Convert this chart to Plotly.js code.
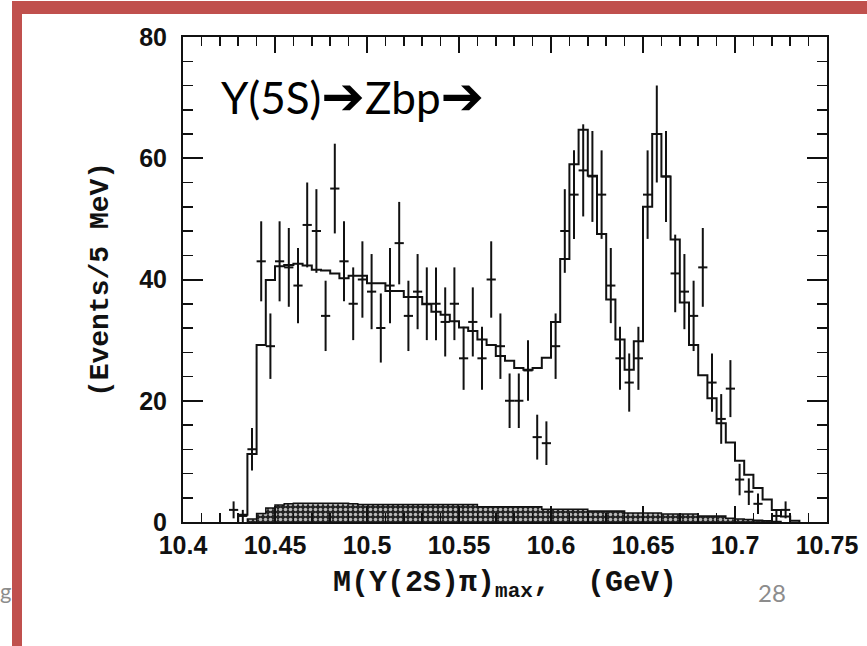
<!DOCTYPE html>
<html>
<head>
<meta charset="utf-8">
<script src="https://cdn.plot.ly/plotly-3.0.1.min.js"></script>
<style>
  html, body { margin: 0; padding: 0; background: #ffffff; }
  #chart { width: 867px; height: 646px; }
</style>
</head>
<body>
<div id="chart"></div>
<script>
// ---- Data ----
// Measured points (bin centres in GeV, events / 5 MeV, error bars)
const dataMass = [10.4275,10.4325,10.4375,10.4425,10.4475,10.4525,10.4575,10.4625,10.4675,10.4725,
  10.4775,10.4825,10.4875,10.4925,10.4975,10.5025,10.5075,10.5125,10.5175,10.5225,
  10.5275,10.5325,10.5375,10.5425,10.5475,10.5525,10.5575,10.5625,10.5675,10.5725,
  10.5775,10.5825,10.5875,10.5925,10.5975,10.6025,10.6075,10.6125,10.6175,10.6225,
  10.6275,10.6325,10.6375,10.6425,10.6475,10.6525,10.6575,10.6625,10.6675,10.6725,
  10.6775,10.6825,10.6875,10.6925,10.6975,10.7025,10.7075,10.7125,10.7225,10.7275];
const dataEvents = [2,1,12,43,29,43,42,39,49,48,
  34,55,43,36,40,38,32,39,46,34,
  38,36,36,33,36,27,33,27,40,29,
  20,20,25,14,13,29,48,54,58,57,
  54,39,27,23,27,54,64,57,41,38,
  34,42,23,17,22,7,5,3,1,2];
const dataErrors = [1.4,1.0,3.5,6.6,5.4,6.6,6.5,6.2,7.0,6.9,
  5.8,7.4,6.6,6.0,6.3,6.2,5.7,6.2,6.8,5.8,
  6.2,6.0,6.0,5.7,6.0,5.2,5.7,5.2,6.3,5.4,
  4.5,4.5,5.0,3.7,3.6,5.4,6.9,7.3,7.6,7.5,
  7.3,6.2,5.2,4.8,5.2,7.3,8.0,7.5,6.4,6.2,
  5.8,6.5,4.8,4.1,4.7,2.6,2.2,1.7,1.0,1.4];

// Fit histogram (bin centres, content)
const fitMass = [10.4325,10.4375,10.4425,10.4475,10.4525,10.4575,10.4625,10.4675,10.4725,10.4775,
  10.4825,10.4875,10.4925,10.4975,10.5025,10.5075,10.5125,10.5175,10.5225,10.5275,
  10.5325,10.5375,10.5425,10.5475,10.5525,10.5575,10.5625,10.5675,10.5725,10.5775,
  10.5825,10.5875,10.5925,10.5975,10.6025,10.6075,10.6125,10.6175,10.6225,10.6275,
  10.6325,10.6375,10.6425,10.6475,10.6525,10.6575,10.6625,10.6675,10.6725,10.6775,
  10.6825,10.6875,10.6925,10.6975,10.7025,10.7075,10.7125,10.7175,10.7225,10.7275,
  10.7325];
const fitEvents = [1.2,11.2,29.2,39.9,42.2,42.4,42.6,42.3,41.6,41.5,
  41.0,40.2,40.6,40.6,39.4,39.4,38.1,38.1,37.1,37.1,
  35.9,34.7,34.2,33.1,32.1,31.5,30.1,29.2,27.4,26.6,
  25.4,25.1,25.4,27.1,33.0,43.4,59.0,64.7,57.1,47.5,
  36.7,30.1,25.1,29.8,52.0,64.0,57.0,46.6,36.2,29.2,
  24.2,20.4,16.3,13.1,10.1,7.8,5.6,3.7,2.0,0.9,
  0.2];

// Background histogram (hatched)
const bkgMass = [10.4375,10.4425,10.4475,10.4525,10.4575,10.4625,10.4675,10.4725,10.4775,10.4825,
  10.4875,10.4925,10.4975,10.5025,10.5075,10.5125,10.5175,10.5225,10.5275,10.5325,
  10.5375,10.5425,10.5475,10.5525,10.5575,10.5625,10.5675,10.5725,10.5775,10.5825,
  10.5875,10.5925,10.5975,10.6025,10.6075,10.6125,10.6175,10.6225,10.6275,10.6325,
  10.6375,10.6425,10.6475,10.6525,10.6575,10.6625,10.6675,10.6725,10.6775,10.6825,
  10.6875,10.6925,10.6975,10.7025,10.7075,10.7125,10.7175,10.7225];
const bkgEvents = [0.5,1.4,2.3,2.8,3.0,3.1,3.1,3.1,3.1,3.1,
  3.1,3.0,2.9,2.9,2.9,2.9,2.9,2.9,2.9,2.9,
  2.9,2.9,2.9,2.9,2.9,2.5,2.5,2.5,2.5,2.5,
  2.5,2.5,2.1,2.1,2.1,2.1,2.1,1.8,1.8,1.8,
  1.8,1.5,1.5,1.5,1.5,1.3,1.3,1.3,1.3,1.0,
  1.0,1.0,0.6,0.5,0.4,0.3,0.2,0.1];

const binWidth = 0.005;
const xTickStart = 10.4, xTickStep = 0.05, xMinorStep = 0.01;
const yTickStep = 20, yMinorStep = 4;

// Build step outlines (left edges + closing right edge) from bin centres
function stepOutline(centres, values) {
  const xs = [centres[0] - binWidth / 2];
  const ys = [0];
  for (let i = 0; i < centres.length; i++) {
    xs.push(centres[i] - binWidth / 2);
    ys.push(values[i]);
  }
  const lastRight = centres[centres.length - 1] + binWidth / 2;
  xs.push(lastRight); ys.push(values[values.length - 1]);
  xs.push(lastRight); ys.push(0);
  return { xs, ys };
}

const bkg = stepOutline(bkgMass, bkgEvents);
const fit = stepOutline(fitMass, fitEvents);

const ink = '#111111';

const traces = [
  {
    type: 'scatter', mode: 'lines',
    x: bkg.xs, y: bkg.ys,
    line: { shape: 'hv', color: ink, width: 1.5 },
    fill: 'tozeroy',
    fillcolor: '#444444',
    fillpattern: { shape: '.', bgcolor: '#222222', fgcolor: '#b8b8b8', size: 5, solidity: 0.4 },
    hoverinfo: 'skip'
  },
  {
    type: 'scatter', mode: 'lines',
    x: fit.xs, y: fit.ys,
    line: { shape: 'hv', color: ink, width: 2 },
    hoverinfo: 'skip'
  },
  {
    type: 'scatter', mode: 'markers',
    x: dataMass, y: dataEvents,
    marker: { color: ink, size: 2 },
    error_y: { type: 'data', array: dataErrors, visible: true, color: ink, thickness: 2, width: 0 },
    error_x: { type: 'constant', value: binWidth / 2, visible: true, color: ink, thickness: 2, width: 0 }
  }
];

// pixel helpers for paper coordinates (plot area: x 183..827, y 37..522)
const L = 183, R = 40, T = 37, B = 124, W = 867, H = 646;
const pw = W - L - R, ph = H - T - B;
const px = v => (v - L) / pw;
const py = v => (H - B - v) / ph;

const red = '#C0504D';
const arrow = '<span style="font-family:DejaVu Sans;font-size:52px">➔</span>';

const layout = {
  width: W, height: H,
  margin: { l: L, r: R, t: T, b: B, pad: 0 },
  paper_bgcolor: '#ffffff', plot_bgcolor: '#ffffff',
  showlegend: false,
  xaxis: {
    range: [10.4, 10.75],
    tickmode: 'linear', tick0: xTickStart, dtick: xTickStep,
    ticks: 'inside', ticklen: 16, tickwidth: 2, tickcolor: ink,
    showline: true, linewidth: 2, linecolor: ink, mirror: 'ticks',
    showgrid: false, zeroline: false,
    ticklabelstandoff: 0,
    tickfont: { family: 'Liberation Sans, Arial, sans-serif', size: 25, weight: 700, color: ink },
    minor: { tick0: xTickStart, dtick: xMinorStep, ticks: 'inside', ticklen: 9, tickwidth: 1.5, tickcolor: ink, showgrid: false },
    title: {
      text: 'M(Υ(2S)π)<sub>max</sub>,\u00a0\u00a0(GeV)',
      font: { family: 'Liberation Mono, Courier New, monospace', size: 30, weight: 700, color: ink },
      standoff: 12
    }
  },
  yaxis: {
    range: [0, 80],
    tickmode: 'linear', tick0: 0, dtick: yTickStep,
    ticks: 'inside', ticklen: 20, tickwidth: 2, tickcolor: ink,
    showline: true, linewidth: 2, linecolor: ink, mirror: 'ticks',
    showgrid: false, zeroline: false,
    ticklabelstandoff: 9,
    tickfont: { family: 'Liberation Sans, Arial, sans-serif', size: 25, weight: 700, color: ink },
    minor: { tick0: 0, dtick: yMinorStep, ticks: 'inside', ticklen: 10, tickwidth: 1.5, tickcolor: ink, showgrid: false },
    title: {
      text: '(Events/5 MeV)',
      font: { family: 'Liberation Mono, Courier New, monospace', size: 28, weight: 700, color: ink },
      standoff: 22
    }
  },
  shapes: [
    { type: 'rect', xref: 'paper', yref: 'paper', layer: 'above',
      x0: px(12), x1: px(867), y0: py(14), y1: py(1),
      fillcolor: red, line: { width: 0 } },
    { type: 'rect', xref: 'paper', yref: 'paper', layer: 'above',
      x0: px(12), x1: px(22), y0: py(646), y1: py(1),
      fillcolor: red, line: { width: 0 } }
  ],
  annotations: [
    { xref: 'paper', yref: 'paper', x: px(219), y: py(96), xanchor: 'left', yanchor: 'middle',
      text: 'Υ(5S)' + arrow + 'Zbp' + arrow, showarrow: false,
      font: { family: 'Lato, DejaVu Sans, sans-serif', size: 44, color: '#000000' } },
    { xref: 'paper', yref: 'paper', x: px(772), y: py(592), xanchor: 'center', yanchor: 'middle',
      text: '28', showarrow: false,
      font: { family: 'Lato, Open Sans, sans-serif', size: 24, color: '#8c8c8c' } },
    { xref: 'paper', yref: 'paper', x: px(12), y: py(590), xanchor: 'right', yanchor: 'middle',
      text: 'g', showarrow: false, borderpad: 0,
      font: { family: 'Lato, Open Sans, sans-serif', size: 22, color: '#8c8c8c' } }
  ]
};

Plotly.newPlot('chart', traces, layout, { staticPlot: true, displayModeBar: false });
</script>
</body>
</html>
